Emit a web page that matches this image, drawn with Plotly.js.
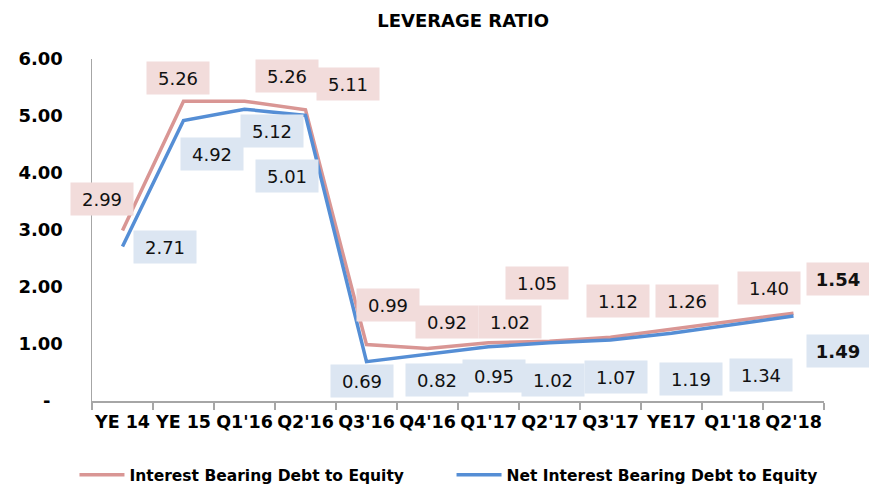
<!DOCTYPE html>
<html>
<head>
<meta charset="utf-8">
<script src="https://cdn.plot.ly/plotly-3.0.1.min.js"></script>
<style>html,body{margin:0;padding:0;background:#fff;}#chart{width:869px;height:484px;}</style>
</head>
<body>
<div id="chart"></div>
<script>
// ---- data ----
var categories = ["YE 14", "YE 15", "Q1'16", "Q2'16", "Q3'16", "Q4'16", "Q1'17", "Q2'17", "Q3'17", "YE17", "Q1'18", "Q2'18"];
var grossDebtToEquity = [2.99, 5.26, 5.26, 5.11, 0.99, 0.92, 1.02, 1.05, 1.12, 1.26, 1.40, 1.54];
var netDebtToEquity   = [2.71, 4.92, 5.12, 5.01, 0.69, 0.82, 0.95, 1.02, 1.07, 1.19, 1.34, 1.49];
var seriesNames = ["Interest Bearing Debt to Equity", "Net Interest Bearing Debt to Equity"];
var yTickVals = [0, 1, 2, 3, 4, 5, 6];
var yTickText = ["-\u00a0\u00a0", "1.00", "2.00", "3.00", "4.00", "5.00", "6.00"];

// ---- label placement (pixel offsets from each point) ----
var grossLabelDx = [-21, -6, 42, 42, 21, 19, 21, -13, 7, 15, 36, 44];
var grossLabelDy = [32, 23, 25, 26, 40, 27, 21, 58, 36, 28, 33, 34];
var netLabelDx = [42, 28, 27, -19, -5, 9, 5, 3, 5, 19, 28, 44];
var netLabelDy = [0, -33, -22, -61, -19, -26, -29, -37, -37, -46, -50, -35];

var pinkLine = "#D99694", blueLine = "#558ED5";
var pinkBox = "#F2DCDB", blueBox = "#DCE6F2";
var font = "DejaVu Sans, Verdana, sans-serif";

function labels(vals, dx, dy, bg) {
  return vals.map(function (v, i) {
    var last = i === vals.length - 1;
    return {
      x: categories[i], y: v, xref: "x", yref: "y",
      text: last ? "<b>" + v.toFixed(2) + "</b>" : v.toFixed(2),
      showarrow: false, xshift: dx[i], yshift: dy[i],
      bgcolor: bg, width: 58, height: 28, borderpad: 2,
      font: {family: font, size: 18, color: "#111"}
    };
  });
}

var traces = [
  {x: categories, y: grossDebtToEquity, name: seriesNames[0], type: "scatter", mode: "lines",
   line: {color: pinkLine, width: 3.5}, cliponaxis: false, legend: "legend"},
  {x: categories, y: netDebtToEquity, name: seriesNames[1], type: "scatter", mode: "lines",
   line: {color: blueLine, width: 3.5}, cliponaxis: false, legend: "legend2"}
];

function legendAt(xFrac) {
  return {orientation: "h", xref: "container", yref: "container", x: xFrac, xanchor: "left",
          y: 0.018, yanchor: "middle",
          font: {family: font, size: 15.5, color: "#000", weight: "bold"},
          itemwidth: 45, bgcolor: "rgba(0,0,0,0)"};
}

var layout = {
  width: 869, height: 484,
  margin: {l: 92, r: 45, t: 59, b: 83, autoexpand: false},
  paper_bgcolor: "#fff", plot_bgcolor: "#fff",
  font: {family: font, color: "#000"},
  title: {text: "<b>LEVERAGE RATIO</b>", x: 0.507, xanchor: "center", y: 0.957, yanchor: "middle",
          xref: "paper", font: {family: font, size: 18, color: "#000"}},
  xaxis: {
    type: "category", range: [-0.5, 11.5], showgrid: false, zeroline: false,
    showline: true, linecolor: "#A6A6A6", linewidth: 1.5,
    ticks: "outside", tickson: "boundaries", ticklen: 7, tickcolor: "#A6A6A6", tickwidth: 1.5,
    tickfont: {family: font, size: 17.5, color: "#000", weight: "bold"}, tickangle: 0,
    ticklabelstandoff: 4
  },
  yaxis: {
    range: [0, 6], showgrid: false, zeroline: false,
    showline: true, linecolor: "#A6A6A6", linewidth: 1.5,
    tickvals: yTickVals, ticktext: yTickText, ticks: "",
    tickfont: {family: font, size: 18, color: "#000", weight: "bold"},
    ticklabelstandoff: 24
  },
  showlegend: true,
  legend: legendAt(0.0857),
  legend2: legendAt(0.5196),
  annotations: labels(grossDebtToEquity, grossLabelDx, grossLabelDy, pinkBox)
    .concat(labels(netDebtToEquity, netLabelDx, netLabelDy, blueBox)),
  hovermode: false
};

Plotly.newPlot("chart", traces, layout, {staticPlot: true, displayModeBar: false});
</script>
</body>
</html>
